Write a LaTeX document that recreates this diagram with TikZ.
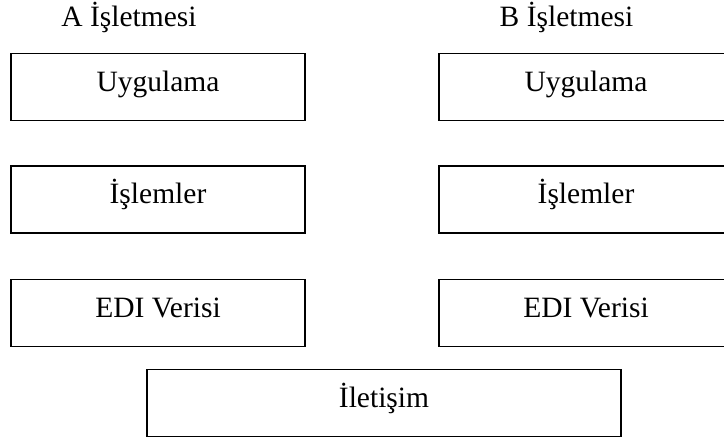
\documentclass[tikz,border=0pt]{standalone}
\usepackage{fontspec}
\setmainfont{Liberation Serif}
\begin{document}
\begin{tikzpicture}[x=1pt,y=-1pt,
  layerbox/.style={draw=black, line width=1.7pt, minimum width=294pt,
    minimum height=67pt, inner sep=0pt, text height=9pt, text depth=0pt,
    font=\fontsize{29.5}{34}\selectfont},
  header/.style={anchor=base, inner sep=0pt, font=\fontsize{29.5}{34}\selectfont}]
  \clip (0,0) rectangle (724,438);
  % column headings
  \node[header] (ha) at (129,27) {A İşletmesi};
  \node[header] (hb) at (566.5,27) {B İşletmesi};
  % left stack
  \node[layerbox] (a1) at (158,87) {Uygulama};
  \node[layerbox] (a2) at (158,199.5) {İşlemler};
  \node[layerbox] (a3) at (158,313) {EDI Verisi};
  % right stack
  \node[layerbox] (b1) at (586,87) {Uygulama};
  \node[layerbox] (b2) at (586,199.5) {İşlemler};
  \node[layerbox] (b3) at (586,313) {EDI Verisi};
  % shared communication layer
  \node[layerbox, minimum width=474pt] (com) at (384,403) {İletişim};
\end{tikzpicture}
\end{document}
